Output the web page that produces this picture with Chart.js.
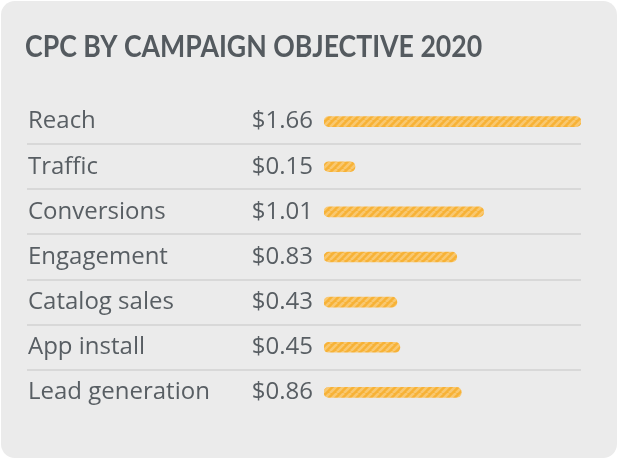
<!DOCTYPE html>
<html>
<head>
<meta charset="utf-8">
<script src="https://cdn.jsdelivr.net/npm/chart.js@4/dist/chart.umd.min.js"></script>
<style>
  html, body { margin: 0; padding: 0; background: #ffffff; }
  #card { position: absolute; left: 1px; top: 1px; width: 616px; height: 457px;
          background: #ebebeb; border-radius: 14px; overflow: hidden; }
  canvas { display: block; }
</style>
</head>
<body>
<div id="card"><canvas id="c" width="616" height="457"></canvas></div>
<script>
const titleText = 'CPC BY CAMPAIGN OBJECTIVE 2020';
const categories = ['Reach', 'Traffic', 'Conversions', 'Engagement', 'Catalog sales', 'App install', 'Lead generation'];
const cpcValues = [1.66, 0.15, 1.01, 0.83, 0.43, 0.45, 0.86];
const valueLabels = ['$1.66', '$0.15', '$1.01', '$0.83', '$0.43', '$0.45', '$0.86'];

const textColor = '#585e63';
const labelFont = 'Open Sans';
const labelSize = 24;

function makeStripes() {
  const s = 7;
  const t = document.createElement('canvas');
  t.width = s; t.height = s;
  const g = t.getContext('2d');
  g.fillStyle = '#f7b236';
  g.fillRect(0, 0, s, s);
  g.strokeStyle = '#f9c870';
  g.lineWidth = 2.6;
  for (const off of [-s, 0, s]) {
    g.beginPath();
    g.moveTo(off, s);
    g.lineTo(off + s, 0);
    g.stroke();
  }
  return g.createPattern(t, 'repeat');
}

const rowDecor = {
  id: 'rowDecor',
  beforeDatasetsDraw(chart) {
    const ctx = chart.ctx;
    const y = chart.scales.y;
    const xs = chart.scales.x;
    ctx.save();
    ctx.strokeStyle = '#d8d8d8';
    ctx.lineWidth = 2;
    for (let i = 0; i < categories.length - 1; i++) {
      const py = Math.round((y.getPixelForValue(i) + y.getPixelForValue(i + 1)) / 2);
      ctx.beginPath();
      ctx.moveTo(26, py);
      ctx.lineTo(xs.right, py);
      ctx.stroke();
    }
    ctx.fillStyle = textColor;
    ctx.font = labelSize + 'px "' + labelFont + '"';
    ctx.textAlign = 'right';
    ctx.textBaseline = 'middle';
    for (let i = 0; i < categories.length; i++) {
      ctx.fillText(valueLabels[i], xs.left - 11, y.getPixelForValue(i));
    }
    ctx.restore();
  },
  afterDraw(chart) {
    const ctx = chart.ctx;
    ctx.save();
    ctx.fillStyle = '#545a5f';
    ctx.font = 'bold 31px "Lato"';
    ctx.textAlign = 'left';
    ctx.textBaseline = 'alphabetic';
    ctx.translate(24, 56);
    ctx.scale(0.86, 1);
    ctx.fillText(titleText, 0, 0);
    ctx.restore();
  }
};

new Chart(document.getElementById('c'), {
  type: 'bar',
  data: {
    labels: categories,
    datasets: [{
      data: cpcValues,
      backgroundColor: makeStripes(),
      borderSkipped: false,
      borderRadius: 5,
      barThickness: 10,
      base: -0.057
    }]
  },
  options: {
    indexAxis: 'y',
    responsive: false,
    animation: false,
    layout: { padding: { left: 27, right: 36, top: 98, bottom: 43 } },
    plugins: {
      legend: { display: false },
      tooltip: { enabled: false },
      title: { display: false }
    },
    scales: {
      x: { display: false, min: -0.057, max: 1.66 },
      y: {
        grid: { display: false },
        border: { display: false },
        ticks: {
          crossAlign: 'far',
          color: textColor,
          padding: 0,
          font: { family: labelFont, size: labelSize }
        },
        afterFit(scale) { scale.width = 296; }
      }
    }
  },
  plugins: [rowDecor]
});
</script>
</body>
</html>
